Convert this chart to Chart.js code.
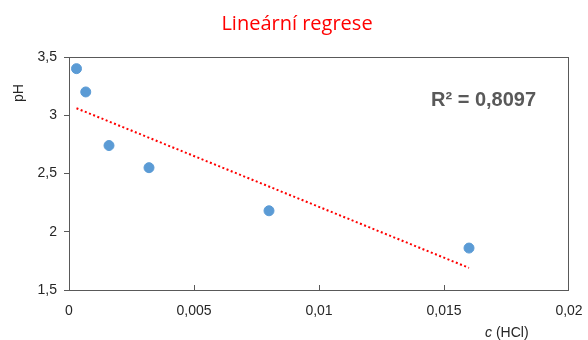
<!DOCTYPE html>
<html>
<head>
<meta charset="utf-8">
<script src="https://cdn.jsdelivr.net/npm/chart.js@4"></script>
<style>
  html, body { margin: 0; padding: 0; background: #fff; }
  #wrap { width: 588px; height: 340px; }
</style>
</head>
<body>
<div id="wrap"><canvas id="chart" width="588" height="340"></canvas></div>
<script>
  // measured values (c in mol/l, pH)
  const concValues = [0.0003, 0.00067, 0.0016, 0.0032, 0.008, 0.016];
  const phValues = [3.4, 3.2, 2.74, 2.55, 2.18, 1.86];
  // trendline end points
  const trendX = [0.0003, 0.016];
  const trendY = [3.06, 1.69];
  const xTicks = [0, 0.005, 0.01, 0.015, 0.02];
  const yTicks = [1.5, 2, 2.5, 3, 3.5];

  const chartTitle = "Lineární regrese";
  const rSquared = "R² = 0,8097";

  const tickFont = { family: "'Liberation Sans', Arial, sans-serif", size: 14 };

  function commaNum(v) {
    return String(+v.toFixed(4)).replace(".", ",");
  }

  const extras = {
    id: "extras",
    afterDraw(chart) {
      const ctx = chart.ctx;
      const area = chart.chartArea;
      const xs = chart.scales.x;
      ctx.save();

      // plot box
      ctx.strokeStyle = "#595959";
      ctx.lineWidth = 1;
      ctx.strokeRect(area.left + 0.5, area.top + 0.5, area.right - area.left - 1, area.bottom - area.top);

      // inside ticks on x axis
      ctx.beginPath();
      xTicks.slice(1, -1).forEach((v) => {
        const x = Math.round(xs.getPixelForValue(v)) + 0.5;
        ctx.moveTo(x, area.bottom);
        ctx.lineTo(x, area.bottom - 5);
      });
      ctx.stroke();

      // title
      ctx.fillStyle = "#ff0000";
      ctx.font = "20px 'Open Sans', 'Noto Sans', sans-serif";
      ctx.textAlign = "center";
      ctx.textBaseline = "middle";
      ctx.fillText(chartTitle, 297, 24);

      // y axis title
      ctx.fillStyle = "#262626";
      ctx.font = "14px 'Liberation Sans', Arial, sans-serif";
      ctx.save();
      ctx.translate(19, 93);
      ctx.rotate(-Math.PI / 2);
      ctx.fillText("pH", 0, 0);
      ctx.restore();

      // x axis title: italic c + (HCl)
      ctx.textAlign = "left";
      ctx.font = "italic 14px 'Liberation Sans', Arial, sans-serif";
      ctx.fillText("c", 485, 333);
      const cw = ctx.measureText("c ").width;
      ctx.font = "14px 'Liberation Sans', Arial, sans-serif";
      ctx.fillText("(HCl)", 485 + cw, 333);

      // R squared
      ctx.fillStyle = "#595959";
      ctx.font = "bold 20px 'Liberation Sans', Arial, sans-serif";
      ctx.textAlign = "left";
      ctx.fillText(rSquared, 431, 100);

      ctx.restore();
    }
  };

  new Chart(document.getElementById("chart"), {
    type: "scatter",
    data: {
      datasets: [
        {
          label: "pH",
          data: concValues.map((c, i) => ({ x: c, y: phValues[i] })),
          backgroundColor: "#5b9bd5",
          borderColor: "#5b9bd5",
          pointRadius: 5,
          pointHoverRadius: 5,
          order: 1
        },
        {
          label: "trend",
          type: "line",
          data: trendX.map((c, i) => ({ x: c, y: trendY[i] })),
          borderColor: "#ff0000",
          borderWidth: 2,
          borderDash: [2, 2.5],
          pointRadius: 0,
          fill: false,
          order: 2
        }
      ]
    },
    options: {
      animation: false,
      responsive: false,
      layout: { padding: { top: 57, right: 19, left: 0, bottom: 0 } },
      plugins: {
        legend: { display: false },
        tooltip: { enabled: false }
      },
      scales: {
        x: {
          type: "linear",
          min: 0,
          max: 0.02,
          afterBuildTicks(scale) {
            scale.ticks = xTicks.map((v) => ({ value: v }));
          },
          afterFit(scale) {
            scale.height = 50;
            scale.paddingLeft = 0;
            scale.paddingRight = 0;
          },
          grid: { display: false, drawTicks: false },
          border: { display: false },
          ticks: {
            padding: 13,
            color: "#262626",
            font: tickFont,
            maxRotation: 0,
            callback: (v) => commaNum(v)
          }
        },
        y: {
          min: 1.5,
          max: 3.5,
          afterBuildTicks(scale) {
            scale.ticks = yTicks.map((v) => ({ value: v }));
          },
          afterFit(scale) {
            scale.width = 69;
            scale.paddingTop = 0;
            scale.paddingBottom = 0;
          },
          grid: { drawOnChartArea: false, drawTicks: true, tickLength: 5, color: "#595959" },
          border: { display: false },
          ticks: {
            padding: 7,
            color: "#262626",
            font: tickFont,
            callback: (v) => commaNum(v)
          }
        }
      }
    },
    plugins: [extras]
  });
</script>
</body>
</html>
